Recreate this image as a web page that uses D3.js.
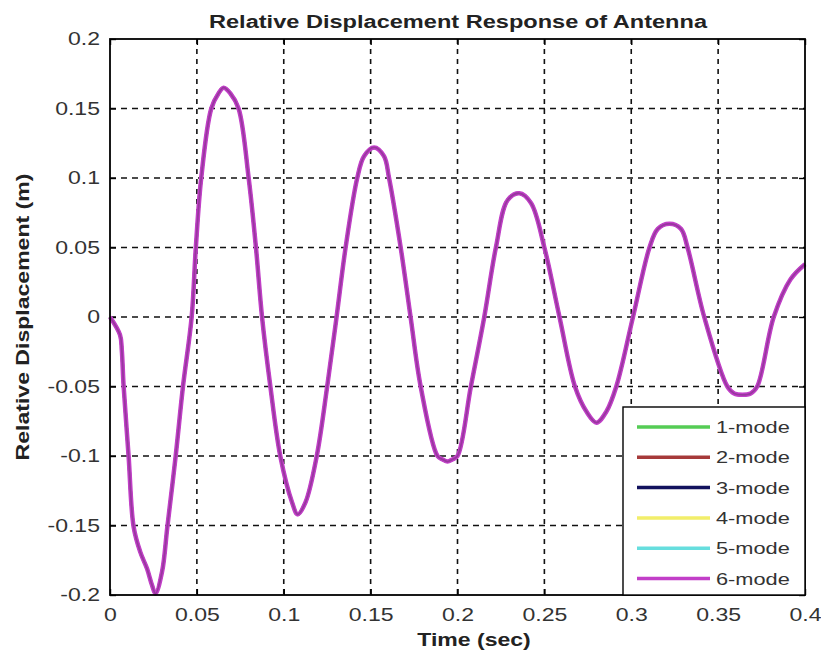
<!DOCTYPE html>
<html>
<head>
<meta charset="utf-8">
<script src="https://cdn.jsdelivr.net/npm/d3@7"></script>
<style>
  body { margin: 0; background: #fff; }
  text { font-family: "Liberation Sans", Arial, sans-serif; }
</style>
</head>
<body>
<div id="chart"></div>
<script>
// time (sec) and displacement (m)
const timeSec = [0, 0.0058, 0.0068, 0.0078, 0.0107, 0.0136, 0.0174, 0.0213, 0.0242, 0.0262,
  0.030, 0.033, 0.0378, 0.042, 0.047, 0.0494, 0.0525, 0.0583, 0.0625, 0.0654, 0.0692, 0.074,
  0.0798, 0.084, 0.0875, 0.0923, 0.098, 0.1048, 0.108, 0.1125, 0.119, 0.125, 0.1304, 0.1356,
  0.1423, 0.1462, 0.152, 0.1577, 0.1606, 0.1673, 0.173, 0.1788, 0.1885, 0.1915, 0.1942, 0.197,
  0.2, 0.2077, 0.2154, 0.2221, 0.2288, 0.2356, 0.2423, 0.25, 0.2587, 0.2676, 0.2742, 0.28,
  0.2857, 0.2914, 0.301, 0.3105, 0.3153, 0.322, 0.3286, 0.3324, 0.342, 0.3553, 0.3592, 0.364,
  0.3687, 0.3725, 0.382, 0.3916, 0.4];
const displacement = [0, -0.013, -0.024, -0.049, -0.1, -0.151, -0.169, -0.181, -0.193, -0.199,
  -0.183, -0.151, -0.1, -0.05, 0, 0.05, 0.1, 0.15, 0.161, 0.165, 0.161, 0.15,
  0.1, 0.05, 0, -0.05, -0.1, -0.1334, -0.142, -0.1334, -0.1, -0.05, 0, 0.05,
  0.1, 0.1157, 0.122, 0.1157, 0.1, 0.05, 0, -0.05, -0.1, -0.1025, -0.104, -0.1025,
  -0.1, -0.05, 0, 0.05, 0.084, 0.089, 0.082, 0.05, 0, -0.05, -0.068, -0.076,
  -0.068, -0.05, 0, 0.05, 0.0634, 0.067, 0.0634, 0.05, 0, -0.05, -0.055, -0.056,
  -0.055, -0.05, 0, 0.027, 0.038];

const modes = ['1-mode', '2-mode', '3-mode', '4-mode', '5-mode', '6-mode'];
const modeColors = ['#55cc55', '#a63a3a', '#12125e', '#f2ee6a', '#66dede', '#c23fc8'];
const xTicks = [0, 0.05, 0.1, 0.15, 0.2, 0.25, 0.3, 0.35, 0.4];
const yTicks = [-0.2, -0.15, -0.1, -0.05, 0, 0.05, 0.1, 0.15, 0.2];

const width = 821, height = 657;
const margin = { top: 39, right: 16, bottom: 62, left: 110 };
const w = width - margin.left - margin.right;
const h = height - margin.top - margin.bottom;
const stretch = 1.28; // the original lettering is wide

const svg = d3.select('#chart').append('svg')
  .attr('width', width).attr('height', height);
const g = svg.append('g').attr('transform', `translate(${margin.left},${margin.top})`);

const x = d3.scaleLinear().domain([0, 0.4]).range([0, w]);
const y = d3.scaleLinear().domain([-0.2, 0.2]).range([h, 0]);

// dashed grid
g.append('g').selectAll('line').data(xTicks.slice(1, -1)).enter().append('line')
  .attr('x1', d => x(d)).attr('x2', d => x(d)).attr('y1', 0).attr('y2', h)
  .attr('stroke', '#111').attr('stroke-width', 1.6).attr('stroke-dasharray', '5,5');
g.append('g').selectAll('line').data(yTicks.slice(1, -1)).enter().append('line')
  .attr('y1', d => y(d)).attr('y2', d => y(d)).attr('x1', 0).attr('x2', w)
  .attr('stroke', '#111').attr('stroke-width', 1.6).attr('stroke-dasharray', '6,5');

// axes (ticks point inward, on all four sides)
const fmt = d => String(d);
const xAxis = g.append('g').attr('transform', `translate(0,${h})`)
  .call(d3.axisBottom(x).tickValues(xTicks).tickFormat(fmt).tickSize(-6).tickPadding(13));
const yAxis = g.append('g')
  .call(d3.axisLeft(y).tickValues(yTicks).tickFormat(fmt).tickSize(-6).tickPadding(10));
const xTop = g.append('g')
  .call(d3.axisTop(x).tickValues(xTicks).tickFormat('').tickSize(-6));
const yRight = g.append('g').attr('transform', `translate(${w},0)`)
  .call(d3.axisRight(y).tickValues(yTicks).tickFormat('').tickSize(-6));
[xAxis, yAxis, xTop, yRight].forEach(a => {
  a.select('.domain').remove();
  a.selectAll('.tick line').attr('stroke', '#000').attr('stroke-width', 1.4);
  a.selectAll('text').style('font-size', '18px').attr('fill', '#333').classed('wide', true);
});

// curves (all modes overlap, 6-mode on top)
const pts = timeSec.map((t, i) => [t, displacement[i]]);
const line = d3.line().x(d => x(d[0])).y(d => y(d[1])).curve(d3.curveCatmullRom.alpha(0.5));
modes.forEach((m, i) => {
  g.append('path').datum(pts)
    .attr('fill', 'none')
    .attr('stroke', modeColors[i])
    .attr('stroke-width', i === 5 ? 4.5 : 3)
    .attr('stroke-linejoin', 'round')
    .attr('d', line);
});
// darker core like the original rendering
g.append('path').datum(pts)
  .attr('fill', 'none').attr('stroke', '#8a3590').attr('stroke-width', 1.8)
  .attr('stroke-opacity', 0.75).attr('d', line);

// plot border
g.append('rect').attr('width', w).attr('height', h)
  .attr('fill', 'none').attr('stroke', '#000').attr('stroke-width', 1.8);

// legend (box right-bottom corner)
const lgW = 182, lgH = 188;
const lg = g.append('g').attr('transform', `translate(${w - lgW},${h - lgH})`);
lg.append('rect').attr('width', lgW).attr('height', lgH)
  .attr('fill', '#fff').attr('stroke', '#000').attr('stroke-width', 1.4);
modes.forEach((m, i) => {
  const yy = 20 + i * 30.3;
  lg.append('line').attr('x1', 14).attr('x2', 87).attr('y1', yy).attr('y2', yy)
    .attr('stroke', modeColors[i]).attr('stroke-width', 3.5);
  lg.append('text').attr('x', 93).attr('y', yy + 6).text(m)
    .style('font-size', '17px').attr('fill', '#333').classed('wide', true);
});

// titles
svg.append('text').attr('x', 458).attr('y', 28).attr('text-anchor', 'middle')
  .style('font-size', '18px').style('font-weight', 'bold').attr('fill', '#222')
  .attr('textLength', 498).attr('lengthAdjust', 'spacingAndGlyphs')
  .text('Relative Displacement Response of Antenna');
svg.append('text').attr('x', 474).attr('y', 646).attr('text-anchor', 'middle')
  .style('font-size', '18px').style('font-weight', 'bold').attr('fill', '#222')
  .classed('wide', true).text('Time (sec)');
svg.append('text').attr('transform', `translate(29,${margin.top + h / 2}) rotate(-90)`)
  .attr('text-anchor', 'middle')
  .style('font-size', '18px').style('font-weight', 'bold').attr('fill', '#222')
  .classed('wide', true).text('Relative Displacement (m)');

// widen the lettering to match the original
svg.selectAll('text.wide').each(function () {
  const len = this.getComputedTextLength();
  if (len > 0) d3.select(this).attr('textLength', len * stretch).attr('lengthAdjust', 'spacingAndGlyphs');
});
</script>
</body>
</html>
